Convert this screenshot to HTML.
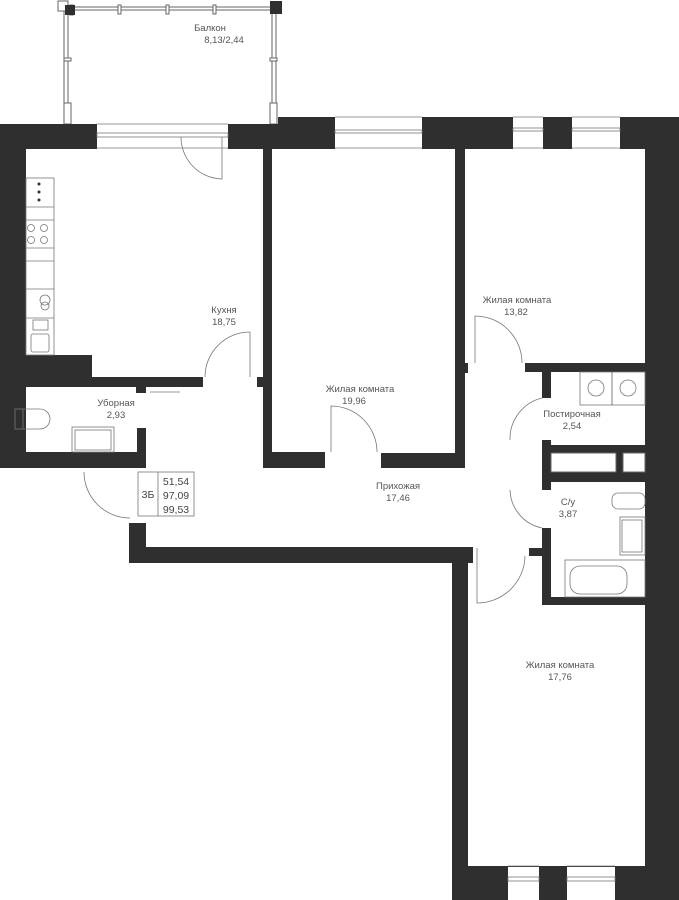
<!DOCTYPE html>
<html><head><meta charset="utf-8"><style>
html,body{margin:0;padding:0;background:#fff;}
svg{display:block}
text{font-family:"Liberation Sans",sans-serif;font-size:9.5px;fill:#555;text-anchor:middle}
</style></head><body>
<svg width="679" height="900" viewBox="0 0 679 900" xmlns="http://www.w3.org/2000/svg">
<g fill="none" stroke="#666" stroke-width="1">
<!-- balcony -->
<rect x="67" y="7" width="208" height="3" fill="#fff"/>
<rect x="64" y="10" width="4" height="114" fill="#fff"/>
<rect x="272" y="10" width="4" height="114" fill="#fff"/>
<rect x="70" y="5" width="3" height="10" fill="#fff"/><rect x="118" y="5" width="3" height="9" fill="#fff"/><rect x="166" y="5" width="3" height="9" fill="#fff"/><rect x="213" y="5" width="3" height="9" fill="#fff"/>
<rect x="64" y="58" width="7" height="3" fill="#fff"/><rect x="270" y="58" width="7" height="3" fill="#fff"/>
<rect x="64" y="103" width="7" height="21" fill="#fff"/><rect x="270" y="103" width="7" height="21" fill="#fff"/>
<rect x="58" y="1" width="10" height="10" fill="#fff"/>
</g>
<g fill="#2f2f2f">
<rect x="65" y="5" width="10" height="10"/><rect x="270" y="1" width="12" height="13"/>
<!-- top walls -->
<rect x="0" y="124" width="97" height="25"/>
<rect x="228" y="124" width="107" height="25"/>
<rect x="278" y="117" width="57" height="10"/>
<rect x="422" y="117" width="91" height="32"/>
<rect x="543" y="117" width="29" height="32"/>
<rect x="620" y="117" width="59" height="32"/>
<!-- right wall -->
<rect x="645" y="117" width="34" height="783"/>
<!-- left -->
<rect x="0" y="124" width="26" height="344"/>
<rect x="0" y="355" width="92" height="32"/>
<rect x="92" y="377" width="111" height="10"/>
<rect x="0" y="387" width="15" height="81"/>
<rect x="0" y="452" width="146" height="16"/>
<rect x="137" y="428" width="9" height="40"/>
<rect x="136" y="387" width="10" height="6"/>
<!-- kitchen/room divider -->
<rect x="263" y="149" width="9" height="319"/>
<rect x="257" y="377" width="15" height="10"/>
<rect x="263" y="452" width="62" height="16"/>
<rect x="381" y="453" width="84" height="15"/>
<rect x="455" y="149" width="10" height="319"/>
<rect x="455" y="363" width="13" height="10"/>
<rect x="525" y="363" width="120" height="9"/>
<!-- postirochnaya -->
<rect x="542" y="372" width="9" height="26"/>
<rect x="542" y="440" width="9" height="42"/>
<rect x="542" y="445" width="103" height="37"/>
<rect x="542" y="482" width="9" height="8"/>
<rect x="542" y="528" width="9" height="77"/>
<rect x="529" y="548" width="22" height="8"/>
<rect x="542" y="597" width="103" height="8"/>
<!-- hall bottom -->
<rect x="129" y="523" width="17" height="40"/>
<rect x="129" y="547" width="344" height="16"/>
<rect x="452" y="547" width="16" height="353"/>
<rect x="452" y="866" width="227" height="34"/>
</g>
<g fill="#fff" stroke="#666">
<rect x="551" y="453" width="65" height="19"/>
<rect x="623" y="453" width="22" height="19"/>
<!-- windows -->
<rect x="97" y="125" width="131" height="23" stroke="none"/>
<rect x="335" y="118" width="87" height="30" stroke="none"/>
<rect x="513" y="118" width="30" height="30" stroke="none"/>
<rect x="572" y="118" width="48" height="30" stroke="none"/>
<rect x="508" y="867" width="31" height="33" stroke="none"/>
<rect x="567" y="867" width="48" height="33" stroke="none"/>
</g>
<g stroke="#777" fill="none" stroke-width="0.8">
<line x1="97" y1="124" x2="228" y2="124"/><line x1="97" y1="148" x2="228" y2="148"/>
<rect x="97" y="133" width="131" height="4"/>
<line x1="335" y1="117" x2="422" y2="117"/><line x1="335" y1="148" x2="422" y2="148"/>
<rect x="335" y="130" width="87" height="3"/>
<line x1="513" y1="117" x2="543" y2="117"/><line x1="513" y1="148" x2="543" y2="148"/><rect x="513" y="128" width="30" height="3"/>
<line x1="572" y1="117" x2="620" y2="117"/><line x1="572" y1="148" x2="620" y2="148"/><rect x="572" y="128" width="48" height="3"/>
<rect x="508" y="877" width="31" height="4"/><rect x="567" y="877" width="48" height="4"/>
<line x1="508" y1="866" x2="539" y2="866"/><line x1="567" y1="866" x2="615" y2="866"/>
<!-- doors -->
<path d="M181 137 L181 137 A42 42 0 0 0 222 179 L222 137"/>
<path d="M205 377 A45 45 0 0 1 250 332 L250 377"/>
<path d="M331 452 L331 406 A46 46 0 0 1 377 452"/>
<path d="M475 363 L475 316 A47 47 0 0 1 522 363"/>
<path d="M510 440 A42 42 0 0 1 542 398"/>
<path d="M510 490 A40 40 0 0 0 542 528"/>
<path d="M477 548 L477 603 A48 48 0 0 0 525 556"/>
<path d="M84 472 A46 46 0 0 0 130 518"/>
<line x1="150" y1="392" x2="180" y2="392"/>
<!-- kitchen counter -->
<rect x="26" y="178" width="28" height="177" fill="#fff"/>
<line x1="26" y1="207" x2="54" y2="207"/><line x1="26" y1="220" x2="54" y2="220"/>
<line x1="26" y1="248" x2="54" y2="248"/><line x1="26" y1="261" x2="54" y2="261"/>
<line x1="26" y1="289" x2="54" y2="289"/><line x1="26" y1="318" x2="54" y2="318"/>
<circle cx="31" cy="228" r="3.5"/><circle cx="44" cy="228" r="3.5"/><circle cx="31" cy="240" r="3.5"/><circle cx="44" cy="240" r="3.5"/>
<circle cx="45" cy="300" r="5"/><circle cx="45" cy="306" r="4"/>
<rect x="33" y="320" width="15" height="10"/>
<rect x="31" y="334" width="18" height="18" rx="2"/>
<!-- toilet uborn -->
<rect x="15" y="409" width="8" height="20"/>
<path d="M23 409 L40 409 A10 10 0 0 1 40 429 L23 429"/>
<rect x="72" y="427" width="42" height="25"/><rect x="75" y="430" width="36" height="20"/>
<!-- washers -->
<rect x="580" y="372" width="32" height="33"/><rect x="612" y="372" width="33" height="33"/>
<circle cx="596" cy="388" r="8"/><circle cx="628" cy="388" r="8"/>
<!-- c/u -->
<rect x="612" y="493" width="33" height="16" rx="6"/>
<rect x="620" y="517" width="25" height="38"/><rect x="622" y="520" width="20" height="32"/>
<rect x="565" y="560" width="80" height="37"/><rect x="570" y="566" width="57" height="28" rx="10"/>
<!-- info box -->
<rect x="138" y="472" width="56" height="44" fill="#fff"/><line x1="158" y1="472" x2="158" y2="516"/>
</g>
<g fill="#2f2f2f">
<circle cx="39" cy="184" r="1.5"/><circle cx="39" cy="192" r="1.5"/><circle cx="39" cy="200" r="1.5"/>
</g>
<text x="210" y="31">Балкон</text><text x="224" y="43">8,13/2,44</text>
<text x="224" y="313">Кухня</text><text x="224" y="325">18,75</text>
<text x="116" y="406">Уборная</text><text x="116" y="418">2,93</text>
<text x="360" y="392">Жилая комната</text><text x="354" y="404">19,96</text>
<text x="517" y="303">Жилая комната</text><text x="516" y="315">13,82</text>
<text x="572" y="417">Постирочная</text><text x="572" y="429">2,54</text>
<text x="398" y="489">Прихожая</text><text x="398" y="501">17,46</text>
<text x="568" y="505">С/у</text><text x="568" y="517">3,87</text>
<text x="560" y="668">Жилая комната</text><text x="560" y="680">17,76</text>
<text x="148" y="498" style="font-size:10.5px;fill:#444">3Б</text>
<text x="176" y="485" style="font-size:10.5px;fill:#444">51,54</text>
<text x="176" y="499" style="font-size:10.5px;fill:#444">97,09</text>
<text x="176" y="513" style="font-size:10.5px;fill:#444">99,53</text>
</svg>
</body></html>
